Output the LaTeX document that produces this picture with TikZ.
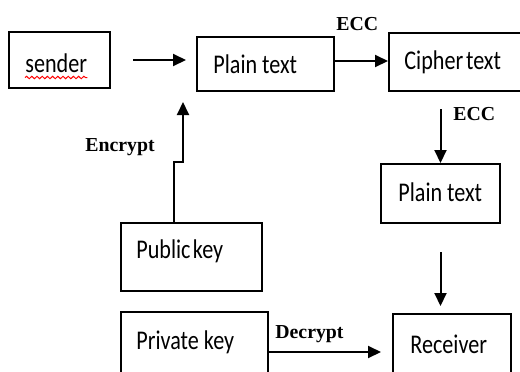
\documentclass[tikz,border=0pt]{standalone}
\usepackage{fontspec}
\usepackage{graphicx}
\usetikzlibrary{arrows.meta,decorations.pathmorphing}
\newfontfamily\boxfont{Carlito}
\newfontfamily\lblfont{Liberation Serif}
\newcommand{\cz}[1]{\scalebox{0.82}[1]{#1}}
\begin{document}
\begin{tikzpicture}[x=0.5pt,y=-0.5pt,
  box/.style={draw, line width=1pt, inner sep=0pt, rectangle},
  btxt/.style={anchor=base west, inner sep=0pt, font=\boxfont\fontsize{13.5pt}{16pt}\selectfont},
  lbl/.style={anchor=base west, inner sep=0pt, font=\lblfont\bfseries\fontsize{9.9pt}{12pt}\selectfont},
  arr/.style={line width=1pt, -{Triangle[length=6.5pt,width=6pt]}}]
\clip (0,0) rectangle (520,371);
\fill[white] (0,0) rectangle (520,371);
% boxes
\node[box, minimum width=50.5pt, minimum height=28pt] (sender) at (59.5,60) {};
\node[box, minimum width=68.5pt, minimum height=27pt] (plain1) at (265.5,64) {};
\node[box, minimum width=100pt, minimum height=29pt] (cipher) at (489,62) {};
\node[box, minimum width=59.5pt, minimum height=29.5pt] (plain2) at (440.5,193.5) {};
\node[box, minimum width=70.5pt, minimum height=34pt] (public) at (191.5,257) {};
\node[box, minimum width=73.5pt, minimum height=50pt] (private) at (194.5,362) {};
\node[box, minimum width=59pt, minimum height=49pt] (receiver) at (452,363) {};
% box texts
\node[btxt] (tsender) at (25,72) {\cz{sender}};
\node[btxt] (tplain1) at (213,73) {\cz{Plain text}};
\node[btxt] (tcipher) at (404,69) {\cz{Cipher\kern-0.1em\ text}};
\node[btxt] (tplain2) at (398,201) {\cz{Plain text}};
\node[btxt] (tpublic) at (136,258) {\cz{Public\kern-0.12em\ key}};
\node[btxt] (tprivate) at (136,349) {\cz{Private key}};
\node[btxt] (treceiver) at (410,353) {\cz{Receiver}};
\draw[red, line width=0.5pt, decorate, decoration={snake, amplitude=0.6pt, segment length=2.6pt}]
  ([yshift=-2.75pt]tsender.base west) -- ([yshift=-2.75pt]tsender.base east);
% labels
\node[lbl] (ecc1) at (336,30) {ECC};
\node[lbl] (ecc2) at (453,120) {ECC};
\node[lbl] (enc) at (85,151) {Encrypt};
\node[lbl] (dec) at (275,338) {Decrypt};
% connectors
\coordinate (decy) at (0,352);
\draw[arr, shorten <=11pt, shorten >=5pt] (sender.east) -- (sender.east -| plain1.west);
\draw[arr] ([yshift=1.5pt]plain1.east) -- ([yshift=1.5pt]plain1.east -| cipher.west);
\draw[arr] ([yshift=-8.5pt]cipher.south -| plain2.north) -- (plain2.north);
\draw[arr, shorten <=14pt, shorten >=3.5pt] (plain2.south) -- (plain2.south |- receiver.north);
\draw[arr, shorten >=5.5pt] (private.east |- decy) -- (decy -| receiver.west);
\coordinate (encbase) at (174,162);
\coordinate (enctip) at (183,102);
\draw[arr] (public.north -| encbase) -- (encbase) -- ++(9,0) -- (enctip);
\end{tikzpicture}
\end{document}
